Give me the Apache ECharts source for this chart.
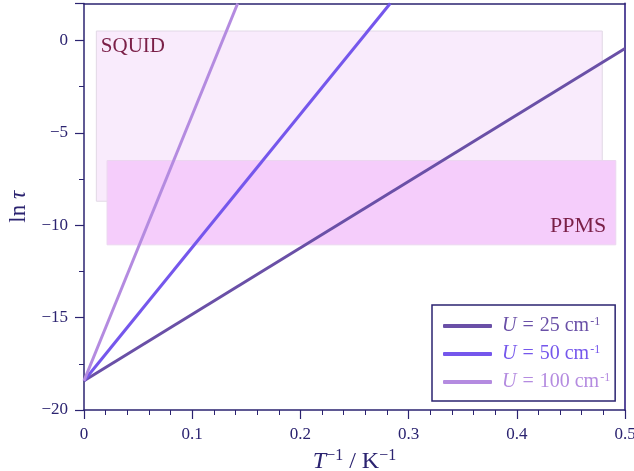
<!DOCTYPE html>
<html>
<head>
<meta charset="utf-8">
<script src="https://cdn.jsdelivr.net/npm/echarts@6/dist/echarts.min.js"></script>
<style>html,body{margin:0;padding:0;background:#fff;}#c{width:634px;height:471px;}</style>
</head>
<body>
<div id="c"></div>
<script>
// ---- data ----
const seriesNames = ['U = 25 cm-1', 'U = 50 cm-1', 'U = 100 cm-1'];
const uValues = ['25', '50', '100'];
const line25 = [[0, -18.42], [0.5, -0.44]];
const line50 = [[0, -18.42], [0.283, 2]];
const line100 = [[0, -18.42], [0.142, 2]];
const squidBox = { x: [0.0114, 0.479], y: [-8.7, 0.51] };
const ppmsBox = { x: [0.0213, 0.4915], y: [-11.06, -6.5] };
const xTicks = [0, 0.1, 0.2, 0.3, 0.4, 0.5];
const yTicks = [-20, -15, -10, -5, 0];

const colors = ['#6a50a7', '#7557ec', '#b48be0'];
const navy = '#2b2370';
const serif = '"Liberation Serif", "DejaVu Serif", serif';

const fmtNum = v => (v < 0 ? '\u2212' + Math.abs(v) : String(v));

const legendRich = {};
colors.forEach((c, i) => {
  legendRich['u' + i] = { color: c, fontFamily: serif, fontStyle: 'italic', fontSize: 20, lineHeight: 20 };
  legendRich['e' + i] = { color: c, fontFamily: serif, fontSize: 20, lineHeight: 20, padding: [0, 1, 0, 1] };
  legendRich['t' + i] = { color: c, fontFamily: serif, fontSize: 20, lineHeight: 20 };
  legendRich['s' + i] = { color: c, fontFamily: serif, fontSize: 12, lineHeight: 20, verticalAlign: 'top', padding: [0, 0, 6, 1] };
});

const chart = echarts.init(document.getElementById('c'), null, { renderer: 'canvas' });
const lineData = [line25, line50, line100];

const option = {
  animation: false,
  grid: { left: 84, right: 9, top: 3.5, bottom: 61, containLabel: false, outerBoundsMode: 'none' },
  xAxis: [{
    type: 'value', min: 0, max: 0.5, interval: 0.1,
    name: '{i|T}{s|\u22121} / K{s|\u22121}',
    nameLocation: 'middle', nameGap: 36,
    nameTextStyle: {
      color: navy, fontFamily: serif, fontSize: 24,
      rich: {
        i: { fontFamily: serif, fontStyle: 'italic', fontSize: 24, color: navy, lineHeight: 28 },
        s: { fontFamily: serif, fontSize: 16, color: navy, lineHeight: 28, verticalAlign: 'top', padding: [0,0,8,0] }
      }
    },
    axisLine: { show: true, onZero: false, lineStyle: { color: navy, width: 1.5 } },
    axisTick: { show: true, inside: false, length: 9, lineStyle: { color: navy, width: 1.2 } },
    minorTick: { show: true, splitNumber: 5, length: 5, lineStyle: { color: navy, width: 1 } },
    splitLine: { show: false },
    axisLabel: { color: navy, fontFamily: serif, fontSize: 17, margin: 16,
      formatter: v => (v === 0 ? '0' : String(+v.toFixed(1))) }
  }, {
    type: 'value', position: 'top', min: 0, max: 0.5,
    axisLine: { show: true, onZero: false, lineStyle: { color: navy, width: 1.5 } },
    axisTick: { show: false }, axisLabel: { show: false }, splitLine: { show: false }
  }],
  yAxis: [{
    type: 'value', min: -20, max: 2, interval: 5,
    name: 'ln {i|\u03c4}',
    nameLocation: 'middle', nameGap: 53, nameRotate: 90,
    nameTextStyle: {
      color: navy, fontFamily: serif, fontSize: 23,
      rich: { i: { fontFamily: serif, fontStyle: 'italic', fontSize: 23, color: navy } }
    },
    axisLine: { show: true, onZero: false, lineStyle: { color: navy, width: 1.5 } },
    axisTick: { show: true, inside: false, length: 9, lineStyle: { color: navy, width: 1.2 } },
    minorTick: { show: true, splitNumber: 2, length: 5, lineStyle: { color: navy, width: 1 } },
    splitLine: { show: false },
    axisLabel: { color: navy, fontFamily: serif, fontSize: 17, margin: 16, showMaxLabel: false,
      formatter: v => fmtNum(v) }
  }, {
    type: 'value', position: 'right', min: -20, max: 2,
    axisLine: { show: true, onZero: false, lineStyle: { color: '#594c9c', width: 2 } },
    axisTick: { show: false }, axisLabel: { show: false }, splitLine: { show: false }
  }],
  legend: {
    orient: 'vertical', left: 432, top: 305,
    padding: [11, 5, 9, 11],
    itemGap: 8,
    itemWidth: 49, itemHeight: 4,
    icon: 'roundRect',
    borderColor: navy, borderWidth: 1.5, backgroundColor: '#fff',
    data: seriesNames.map((n, i) => ({ name: n })),
    textStyle: { fontFamily: serif, fontSize: 20, rich: legendRich, padding: [0, 0, 0, 5] },
    formatter: name => {
      const i = seriesNames.indexOf(name);
      return '{u' + i + '|U}{e' + i + '| = }{t' + i + '|' + uValues[i] + ' cm}{s' + i + '|-1}';
    }
  },
  series: [
    {
      type: 'line', name: 'boxes', data: [], z: 1, silent: true,
      markArea: {
        silent: true,
        data: [
          [{ coord: [squidBox.x[0], squidBox.y[1]], itemStyle: { color: '#f9ebfc', borderColor: '#e2d9e6', borderWidth: 1 },
             label: { show: true, position: 'insideTopLeft', formatter: 'SQUID', color: '#7a1f47', fontFamily: serif, fontSize: 21, distance: 5 } },
           { coord: [squidBox.x[1], squidBox.y[0]] }],
          [{ coord: [ppmsBox.x[0], ppmsBox.y[1]], itemStyle: { color: '#f5cdfb', borderColor: '#ecd6f0', borderWidth: 1 },
             label: { show: true, position: 'insideBottomRight', formatter: 'PPMS', color: '#7a1f47', fontFamily: serif, fontSize: 22, distance: 8, offset: [-2, 0] } },
           { coord: [ppmsBox.x[1], ppmsBox.y[0]] }]
        ]
      }
    }
  ].concat(seriesNames.map((n, i) => ({
    type: 'line', name: n, data: lineData[i], z: 3,
    showSymbol: false, symbol: 'none', clip: true,
    lineStyle: { color: colors[i], width: 3 },
    itemStyle: { color: colors[i] }
  })))
};
chart.setOption(option);
</script>
</body>
</html>
